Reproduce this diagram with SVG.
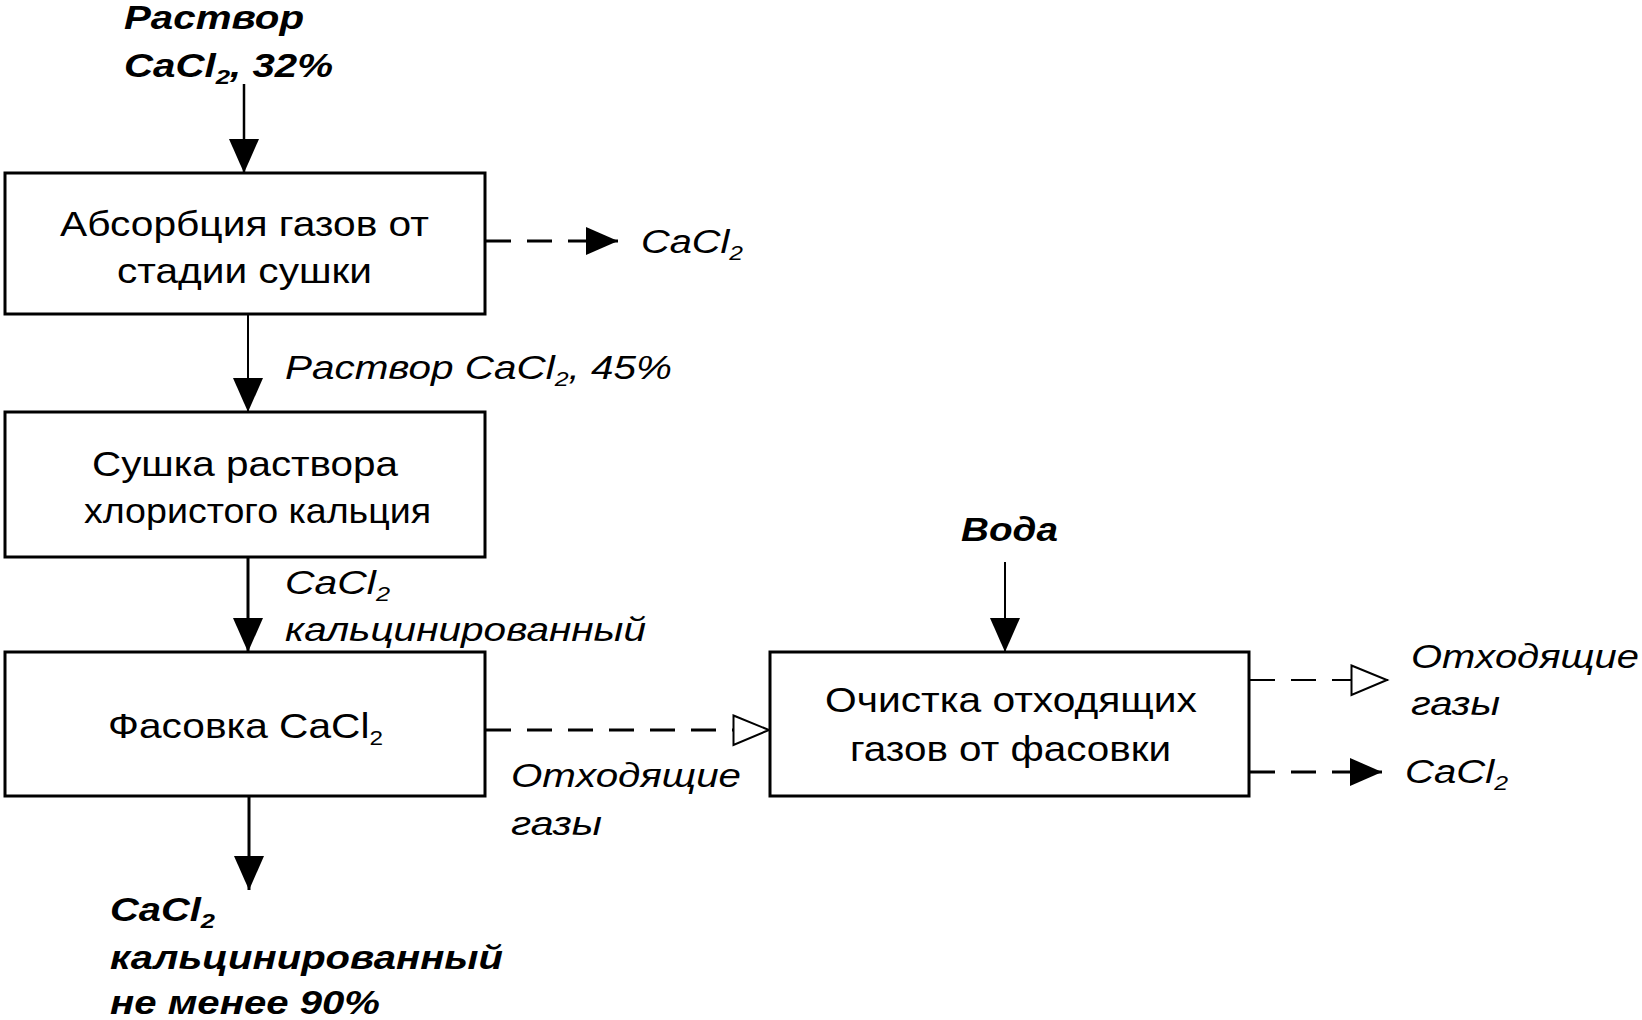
<svg xmlns="http://www.w3.org/2000/svg" width="1642" height="1020" viewBox="0 0 1642 1020">
<style>
  .box{fill:#fff;stroke:#000;stroke-width:3}
  .bt{font-family:"Liberation Sans",Arial,sans-serif;font-size:35px;fill:#000}
  .it{font-family:"Liberation Sans",Arial,sans-serif;font-size:34px;font-style:italic;fill:#000}
  .bi{font-family:"Liberation Sans",Arial,sans-serif;font-size:33px;font-style:italic;font-weight:bold;fill:#000}
  .sub{font-size:21px}
  .ln{fill:none;stroke:#000}
  .dash{stroke-dasharray:25 16}
</style>
<defs>
  <marker id="down" markerUnits="userSpaceOnUse" markerWidth="36" markerHeight="32" refX="34" refY="15" orient="auto" viewBox="0 0 36 32">
    <polygon points="0,0 34,15 0,30" fill="#000"/>
  </marker>
  <marker id="fillR" markerUnits="userSpaceOnUse" markerWidth="32" markerHeight="28" refX="32" refY="14" orient="auto" viewBox="0 0 32 28">
    <polygon points="0,0 32,14 0,28" fill="#000"/>
  </marker>
  <marker id="openR" markerUnits="userSpaceOnUse" markerWidth="40" markerHeight="34" refX="38" refY="16" orient="auto" viewBox="0 0 40 34">
    <polygon points="1.5,1.5 37,16 1.5,31" fill="#fff" stroke="#000" stroke-width="2"/>
  </marker>
</defs>

<g id="connectors">
  <line class="ln" x1="244" y1="84" x2="244" y2="173" stroke-width="2.5" marker-end="url(#down)"/>
  <line class="ln dash" x1="486" y1="241" x2="618" y2="241" stroke-width="3" marker-end="url(#fillR)"/>
  <line class="ln" x1="248" y1="315" x2="248" y2="412" stroke-width="2" marker-end="url(#down)"/>
  <line class="ln" x1="248" y1="558" x2="248" y2="652" stroke-width="3" marker-end="url(#down)"/>
  <line class="ln dash" x1="486" y1="730" x2="770" y2="730" stroke-width="3" marker-end="url(#openR)"/>
  <line class="ln" x1="249" y1="797" x2="249" y2="890" stroke-width="3" marker-end="url(#down)"/>
  <line class="ln" x1="1005" y1="562" x2="1005" y2="652" stroke-width="2" marker-end="url(#down)"/>
  <line class="ln dash" x1="1250" y1="680" x2="1388" y2="680" stroke-width="2" marker-end="url(#openR)"/>
  <line class="ln dash" x1="1250" y1="772" x2="1382" y2="772" stroke-width="3" marker-end="url(#fillR)"/>
</g>

<g id="label-input">
  <text class="bi" x="124" y="29" textLength="180" lengthAdjust="spacingAndGlyphs">Раствор</text>
  <text class="bi" x="124" y="77" textLength="209" lengthAdjust="spacingAndGlyphs">CaCl<tspan class="sub" dy="7">2</tspan><tspan dy="-7">, 32%</tspan></text>
</g>

<g id="node-absorption">
  <rect class="box" x="5" y="173" width="480" height="141"/>
  <text class="bt" x="60" y="236" textLength="369" lengthAdjust="spacingAndGlyphs">Абсорбция газов от</text>
  <text class="bt" x="117" y="283" textLength="255" lengthAdjust="spacingAndGlyphs">стадии сушки</text>
</g>
<g id="label-cacl2-a">
  <text class="it" x="641" y="253" textLength="102" lengthAdjust="spacingAndGlyphs">CaCl<tspan class="sub" dy="7">2</tspan></text>
</g>
<g id="label-45">
  <text class="it" x="285" y="379" textLength="387" lengthAdjust="spacingAndGlyphs">Раствор CaCl<tspan class="sub" dy="7">2</tspan><tspan dy="-7">, 45%</tspan></text>
</g>

<g id="node-drying">
  <rect class="box" x="5" y="412" width="480" height="145"/>
  <text class="bt" x="92" y="476" textLength="306" lengthAdjust="spacingAndGlyphs">Сушка раствора</text>
  <text class="bt" x="84" y="523" textLength="347" lengthAdjust="spacingAndGlyphs">хлористого кальция</text>
</g>
<g id="label-calcined">
  <text class="it" x="285" y="594" textLength="105" lengthAdjust="spacingAndGlyphs">CaCl<tspan class="sub" dy="7">2</tspan></text>
  <text class="it" x="285" y="641" textLength="361" lengthAdjust="spacingAndGlyphs">кальцинированный</text>
</g>

<g id="node-packing">
  <rect class="box" x="5" y="652" width="480" height="144"/>
  <text class="bt" x="108" y="738" textLength="275" lengthAdjust="spacingAndGlyphs">Фасовка CaCl<tspan class="sub" dy="7">2</tspan></text>
</g>
<g id="label-offgas-a">
  <text class="it" x="511" y="787" textLength="230" lengthAdjust="spacingAndGlyphs">Отходящие</text>
  <text class="it" x="511" y="835" textLength="91" lengthAdjust="spacingAndGlyphs">газы</text>
</g>
<g id="label-product">
  <text class="bi" x="110" y="921" textLength="105" lengthAdjust="spacingAndGlyphs">CaCl<tspan class="sub" dy="7">2</tspan></text>
  <text class="bi" x="110" y="969" textLength="393" lengthAdjust="spacingAndGlyphs">кальцинированный</text>
  <text class="bi" x="110" y="1014" textLength="270" lengthAdjust="spacingAndGlyphs">не менее 90%</text>
</g>

<g id="label-water">
  <text class="bi" x="961" y="541" textLength="97" lengthAdjust="spacingAndGlyphs">Вода</text>
</g>
<g id="node-cleaning">
  <rect class="box" x="770" y="652" width="479" height="144"/>
  <text class="bt" x="825" y="712" textLength="372" lengthAdjust="spacingAndGlyphs">Очистка отходящих</text>
  <text class="bt" x="850" y="761" textLength="321" lengthAdjust="spacingAndGlyphs">газов от фасовки</text>
</g>
<g id="label-offgas-b">
  <text class="it" x="1411" y="668" textLength="228" lengthAdjust="spacingAndGlyphs">Отходящие</text>
  <text class="it" x="1411" y="715" textLength="89" lengthAdjust="spacingAndGlyphs">газы</text>
</g>
<g id="label-cacl2-b">
  <text class="it" x="1405" y="783" textLength="103" lengthAdjust="spacingAndGlyphs">CaCl<tspan class="sub" dy="7">2</tspan></text>
</g>
</svg>
